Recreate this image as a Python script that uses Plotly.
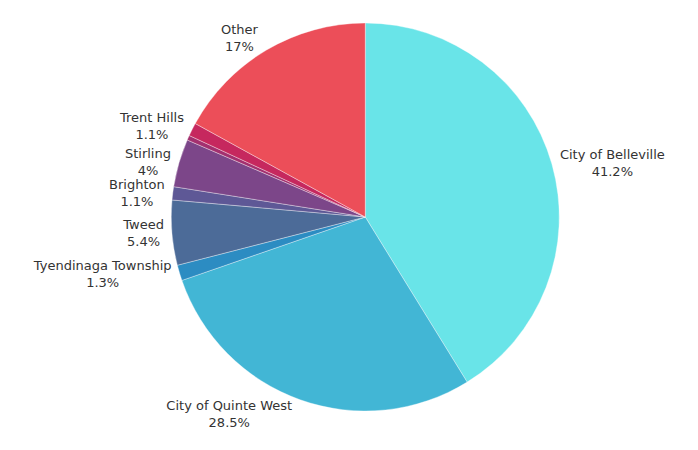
import plotly.graph_objects as go

labels = ["City of Belleville", "City of Quinte West", "Tyendinaga Township", "Tweed",
          "Brighton", "Stirling", "Marmora and Lake", "Trent Hills", "Other"]
values = [41.2, 28.5, 1.3, 5.4, 1.1, 4, 0.4, 1.1, 17]
# label layer per slice (0 = no label); split so neighbouring labels are not pushed apart
label_layer = [1, 1, 2, 1, 1, 2, 0, 1, 2]
colors = ["#69E4E8", "#42B6D5", "#2C8CC2", "#4C6B98", "#5E5896", "#7C4689",
          "#A3306F", "#C6285E", "#EC4E59"]

def texts_for(layer):
    return [f"{l}<br>{v:g}%" if g == layer else "" for l, v, g in zip(labels, values, label_layer)]

domain = dict(x=[0.08, 1], y=[0, 1])
font = dict(family="DejaVu Sans", size=13, color="#333333")

fig = go.Figure()
fig.add_trace(go.Pie(
    labels=labels, values=values, text=texts_for(1),
    textinfo="text", textposition="outside", sort=False,
    direction="clockwise", rotation=0,
    marker=dict(colors=colors, line=dict(color="rgba(255,255,255,0.6)", width=0.6)),
    textfont=font, hoverinfo="label+percent", domain=domain,
))
fig.add_trace(go.Pie(
    labels=labels, values=values, text=texts_for(2),
    textinfo="text", textposition="outside", sort=False,
    direction="clockwise", rotation=0,
    marker=dict(colors=["rgba(0,0,0,0)"] * len(values), line=dict(width=0)),
    textfont=font, hoverinfo="skip", domain=domain,
))

fig.update_layout(
    width=698, height=450,
    margin=dict(l=0, r=0, t=23, b=39),
    paper_bgcolor="white",
    plot_bgcolor="white",
    showlegend=False,
)

fig.write_html("out.html")
